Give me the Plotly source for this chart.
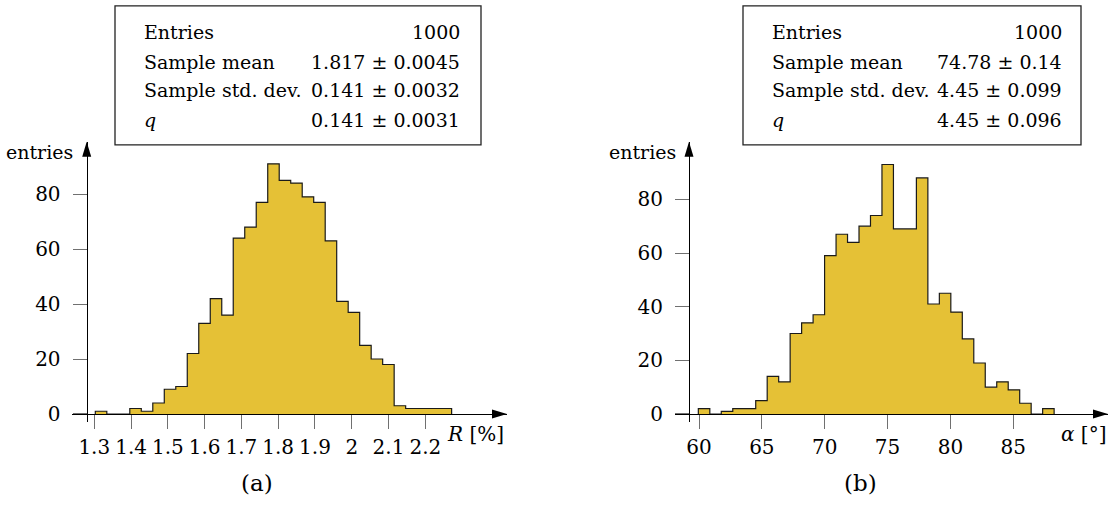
import plotly.graph_objects as go

# ---------------- data ----------------
r_counts = [1, 0, 0, 2, 1, 4, 9, 10, 22, 33, 42, 36, 64, 68, 77, 91,
            85, 84, 79, 77, 63, 41, 37, 25, 20, 18, 3, 2, 2, 2, 2]
r_bin_start = 1.3028
r_bin_width = 0.03125

a_counts = [2, 0, 1, 2, 2, 5, 14, 12, 30, 34, 37, 59, 67, 64, 70, 74,
            93, 69, 69, 88, 41, 45, 38, 28, 19, 10, 12, 9, 4, 0, 2]
a_bin_start = 59.947
a_bin_width = 0.9129

r_ticks = [1.3, 1.4, 1.5, 1.6, 1.7, 1.8, 1.9, 2.0, 2.1, 2.2]
r_ticktext = ["1.3", "1.4", "1.5", "1.6", "1.7", "1.8", "1.9", "2", "2.1", "2.2"]
a_ticks = [60, 65, 70, 75, 80, 85]
y_ticks = [0, 20, 40, 60, 80]

stat_labels = ["Entries", "Sample mean", "Sample std. dev.", "<i>q</i>"]
r_stats = ["1000", "1.817 ± 0.0045", "0.141 ± 0.0032", "0.141 ± 0.0031"]
a_stats = ["1000", "74.78 ± 0.14", "4.45 ± 0.099", "4.45 ± 0.096"]

# ---------------- layout constants ----------------
W, H = 1109, 505
FONT = "DejaVu Serif"
FILL = "#E5C136"


def px(x):
    return x / W


def py(y):
    return 1 - y / H


def step_xy(start, width, counts):
    edges = [start + i * width for i in range(len(counts) + 1)]
    xs = [edges[0]] + edges[:-1] + [edges[-1], edges[-1]]
    ys = [0] + list(counts) + [counts[-1], 0]
    return xs, ys


fig = go.Figure()

for counts, start, width, xa, ya in [
    (r_counts, r_bin_start, r_bin_width, "x", "y"),
    (a_counts, a_bin_start, a_bin_width, "x2", "y2"),
]:
    xs, ys = step_xy(start, width, counts)
    fig.add_trace(go.Scatter(
        x=xs, y=ys, mode="lines", line=dict(shape="hv", color="#1a1a1a", width=1.2),
        fill="tozeroy", fillcolor=FILL, xaxis=xa, yaxis=ya, showlegend=False,
        hoverinfo="skip"))

axis_common = dict(showgrid=False, zeroline=False, showline=True, linecolor="black",
                   linewidth=1.2, ticks="outside", ticklen=14, tickwidth=1.2,
                   tickcolor="#707070", tickfont=dict(family=FONT, size=20, color="black"))

ydom = [py(425), py(143)]
xpos = py(417.3)

fig.update_layout(
    width=W, height=H, margin=dict(l=0, r=0, t=0, b=0),
    plot_bgcolor="white", paper_bgcolor="white",
    xaxis=dict(domain=[px(72), px(507)], range=[1.2394, 2.4221], anchor="free",
               position=xpos, tickvals=r_ticks, ticktext=r_ticktext,
               ticklabelstandoff=1, **axis_common),
    yaxis=dict(domain=ydom, range=[-2.78, 99.0], anchor="free", position=px(86.7),
               tickvals=y_ticks, ticklabelstandoff=8, **axis_common),
    xaxis2=dict(domain=[px(675), px(1108)], range=[58.091, 92.533], anchor="free",
                position=xpos, tickvals=a_ticks, ticklabelstandoff=1, **axis_common),
    yaxis2=dict(domain=ydom, range=[-2.85, 101.44], anchor="free", position=px(689),
                tickvals=y_ticks, ticklabelstandoff=8, **axis_common),
)

shapes = []
# arrow heads
for tipx, tipy in [(507, 417.3), (1108, 417.3)]:
    shapes.append(dict(type="path", xref="paper", yref="paper", xsizemode="pixel",
                       ysizemode="pixel", xanchor=px(tipx), yanchor=py(tipy),
                       path="M 0 0 L -15 4.5 L -15 -4.5 Z", fillcolor="black",
                       line=dict(width=0), layer="above"))
for tipx, tipy in [(86.7, 143), (689, 143)]:
    shapes.append(dict(type="path", xref="paper", yref="paper", xsizemode="pixel",
                       ysizemode="pixel", xanchor=px(tipx), yanchor=py(tipy),
                       path="M 0 0 L -4.5 -15 L 4.5 -15 Z", fillcolor="black",
                       line=dict(width=0), layer="above"))
# stat boxes
for x0, x1 in [(115, 481), (743, 1081)]:
    shapes.append(dict(type="rect", xref="paper", yref="paper", x0=px(x0), x1=px(x1),
                       y0=py(146), y1=py(6), line=dict(color="#222", width=1.3),
                       fillcolor="white", layer="above"))
fig.update_layout(shapes=shapes)

ann = []
row_y = [32, 62, 91, 121]
for lx, rx, vals in [(142, 462, r_stats), (770, 1064, a_stats)]:
    for lab, val, yy in zip(stat_labels, vals, row_y):
        ann.append(dict(x=px(lx), y=py(yy), xref="paper", yref="paper", text=lab,
                        showarrow=False, xanchor="left", yanchor="middle",
                        font=dict(family=FONT, size=19, color="black")))
        ann.append(dict(x=px(rx), y=py(yy), xref="paper", yref="paper", text=val,
                        showarrow=False, xanchor="right", yanchor="middle",
                        font=dict(family=FONT, size=19, color="black")))

text_items = [
    (75, 153, "entries", "right", 19),
    (678, 153, "entries", "right", 19),
    (506, 437, "<i>R</i> [%]", "right", 20),
    (1108, 437, "<i>α</i> [°]", "right", 20),
    (257, 487, "(a)", "center", 23),
    (860, 487, "(b)", "center", 23),
]
for xx, yy, t, anc, fs in text_items:
    ann.append(dict(x=px(xx), y=py(yy), xref="paper", yref="paper", text=t,
                    showarrow=False, xanchor=anc, yanchor="middle",
                    font=dict(family=FONT, size=fs, color="black")))
fig.update_layout(annotations=ann)

fig.write_html("out.html")
